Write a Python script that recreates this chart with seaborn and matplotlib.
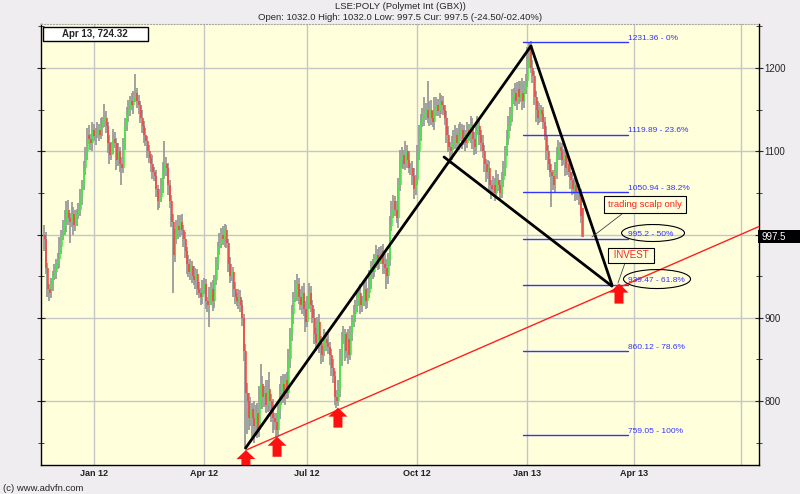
import numpy as np
import pandas as pd
import matplotlib
matplotlib.use("Agg")
import matplotlib.pyplot as plt
import matplotlib.transforms as mtransforms
from matplotlib.patches import Ellipse, Rectangle
from matplotlib.path import Path
import seaborn as sns

# header / quote values
ticker = "LSE:POLY (Polymet Int (GBX))"
open_last, high_last, low_last, cur_last = 1032.0, 1032.0, 997.5, 997.5
chg, chg_pct = -24.50, -2.40
cursor_label = "Apr 13, 724.32"
first_open = 1000.0

# daily closes (trading days from 18 Nov 2011)
closes = [
    995, 960, 935, 930, 940, 950, 955, 965, 970, 985,
    1000, 1010, 1015, 1030, 1020, 1015, 1025, 1012, 1020, 1025,
    1030, 1045, 1060, 1080, 1100, 1120, 1115, 1110, 1125, 1118,
    1122, 1125, 1120, 1128, 1135, 1140, 1130, 1110, 1095, 1105,
    1115, 1110, 1090, 1100, 1085, 1080, 1110, 1130, 1145, 1150,
    1160, 1155, 1165, 1170, 1160, 1155, 1140, 1130, 1120, 1112,
    1100, 1092, 1085, 1075, 1070, 1055, 1040, 1045, 1060, 1075,
    1085, 1080, 1060, 1040, 1015, 975, 995, 1010, 1005, 1015,
    1005, 995, 980, 965, 955, 962, 950, 945, 952, 935,
    930, 925, 935, 940, 920, 915, 925, 935, 920, 945,
    965, 985, 990, 1000, 995, 1005, 990, 965, 950, 955,
    935, 925, 920, 925, 915, 900, 860, 810, 800, 780,
    790, 780, 770, 785, 765, 800, 820, 805, 810, 795,
    815, 800, 790, 780, 775, 765, 790, 805, 820, 805,
    825, 810, 850, 880, 905, 925, 930, 940, 925, 915,
    930, 910, 895, 920, 930, 915, 900, 880, 870, 895,
    870, 855, 860, 875, 870, 865, 855, 840, 830, 805,
    800, 815, 850, 875, 880, 860, 875, 855, 880, 895,
    905, 915, 920, 930, 915, 920, 935, 920, 930, 945,
    960, 955, 970, 975, 965, 975, 980, 965, 960, 950,
    970, 1010, 1030, 1040, 1030, 1020, 1060, 1090, 1095, 1085,
    1100, 1090, 1080, 1080, 1070, 1055, 1065, 1100, 1120, 1135,
    1140, 1145, 1150, 1140, 1150, 1140, 1135, 1150, 1155, 1148,
    1160, 1155, 1150, 1140, 1120, 1105, 1100, 1110, 1115, 1120,
    1110, 1118, 1125, 1115, 1120, 1110, 1125, 1120, 1130, 1115,
    1105, 1125, 1130, 1120, 1110, 1100, 1085, 1075, 1080, 1060,
    1055, 1060, 1050, 1065, 1060, 1050, 1065, 1080, 1100, 1115,
    1130, 1145, 1165, 1170, 1160, 1175, 1165, 1170, 1160, 1175,
    1185, 1210, 1225, 1200, 1190, 1165, 1150, 1140, 1150, 1145,
    1135, 1120, 1100, 1085, 1075, 1070, 1060, 1075, 1095, 1105,
    1100, 1090, 1095, 1080, 1085, 1075, 1065, 1055, 1060, 1050,
    1055, 1045, 1022, 997.5,
]

# wick lengths above / below the body
up_wick = [
    12, 8, 6, 5, 8, 6, 10, 5, 8, 12,
    6, 8, 14, 10, 12, 6, 14, 8, 10, 6,
    8, 10, 6, 8, 5, 8, 12, 6, 10, 8,
    6, 10, 8, 12, 6, 17, 8, 5, 10, 6,
    12, 8, 6, 10, 5, 8, 6, 10, 8, 12,
    6, 10, 8, 23, 6, 8, 5, 10, 6, 8,
    6, 8, 5, 10, 6, 8, 5, 10, 8, 12,
    27, 8, 6, 5, 8, 10, 12, 8, 14, 8,
    10, 6, 8, 5, 10, 8, 6, 12, 8, 6,
    8, 6, 10, 8, 6, 5, 12, 8, 10, 6,
    8, 6, 12, 8, 10, 8, 6, 5, 8, 10,
    6, 8, 5, 10, 8, 6, 5, 8, 12, 10,
    15, 8, 20, 10, 12, 18, 25, 10, 8, 15,
    10, 20, 8, 12, 6, 10, 8, 15, 10, 12,
    8, 10, 12, 8, 10, 6, 15, 12, 8, 10,
    8, 12, 10, 6, 12, 8, 6, 10, 8, 6,
    10, 8, 6, 12, 8, 10, 6, 8, 10, 6,
    8, 10, 12, 8, 10, 6, 8, 12, 10, 8,
    10, 6, 12, 8, 10, 6, 8, 10, 6, 12,
    8, 10, 6, 12, 8, 10, 6, 8, 12, 10,
    8, 12, 10, 8, 6, 10, 8, 12, 10, 6,
    12, 8, 10, 6, 8, 10, 6, 8, 12, 10,
    12, 20, 8, 35, 10, 12, 8, 15, 10, 8,
    10, 8, 12, 6, 8, 10, 6, 8, 10, 12,
    8, 15, 10, 8, 12, 6, 10, 8, 12, 10,
    8, 10, 12, 8, 6, 10, 8, 6, 10, 8,
    6, 10, 8, 12, 8, 6, 10, 8, 6, 10,
    12, 8, 10, 6, 12, 8, 10, 15, 18, 10,
    8, 15, 6, 8, 10, 6, 8, 10, 8, 6,
    8, 6, 10, 8, 6, 10, 8, 12, 10, 8,
    6, 10, 8, 6, 10, 8, 6, 10, 8, 6,
    8, 6, 10, 0,
]
down_wick = [
    15, 8, 10, 10, 6, 8, 5, 8, 6, 10,
    8, 6, 10, 12, 8, 25, 6, 12, 8, 10,
    6, 8, 10, 6, 8, 10, 6, 8, 10, 6,
    10, 6, 8, 5, 10, 6, 8, 12, 10, 6,
    8, 6, 12, 8, 10, 20, 6, 8, 6, 10,
    8, 6, 10, 6, 8, 10, 6, 8, 10, 6,
    8, 6, 10, 8, 6, 10, 10, 8, 6, 10,
    8, 10, 12, 8, 6, 45, 8, 6, 10, 8,
    6, 10, 8, 12, 6, 10, 8, 6, 10, 8,
    6, 10, 8, 6, 10, 8, 26, 10, 12, 8,
    6, 8, 10, 6, 8, 10, 6, 10, 8, 6,
    10, 8, 6, 10, 8, 10, 12, 68, 40, 15,
    10, 25, 20, 12, 10, 8, 10, 15, 12, 10,
    8, 12, 15, 18, 10, 10, 8, 12, 10, 8,
    10, 8, 6, 10, 8, 12, 6, 10, 8, 6,
    10, 8, 12, 6, 10, 8, 6, 12, 10, 8,
    12, 10, 8, 6, 10, 8, 12, 10, 8, 10,
    8, 6, 10, 8, 6, 12, 8, 10, 6, 8,
    6, 10, 8, 6, 10, 8, 6, 10, 8, 6,
    10, 8, 6, 10, 8, 6, 10, 12, 8, 15,
    10, 8, 6, 10, 8, 6, 12, 8, 10, 6,
    8, 10, 6, 8, 10, 12, 8, 6, 10, 8,
    6, 10, 8, 6, 10, 8, 6, 10, 8, 6,
    8, 10, 6, 8, 10, 6, 15, 10, 8, 12,
    10, 8, 6, 12, 8, 10, 6, 8, 10, 12,
    10, 8, 6, 12, 10, 8, 10, 12, 8, 10,
    12, 8, 10, 6, 8, 10, 6, 8, 10, 6,
    8, 6, 10, 8, 6, 10, 8, 6, 10, 8,
    6, 8, 10, 6, 8, 10, 15, 8, 6, 10,
    8, 6, 10, 8, 6, 37, 6, 10, 8, 6,
    10, 8, 6, 10, 8, 6, 10, 8, 6, 10,
    8, 10, 8, 0,
]

start_day = "2011-11-18"
uk_holidays = [
    "2011-12-26", "2011-12-27", "2012-01-02", "2012-04-06", "2012-04-09",
    "2012-05-07", "2012-06-04", "2012-06-05", "2012-08-27", "2012-12-25",
    "2012-12-26", "2013-01-01", "2013-03-29", "2013-04-01", "2013-05-06",
    "2013-05-27",
]
quarter_dates = ["2012-01-01", "2012-04-01", "2012-07-01", "2012-10-01",
                 "2013-01-01", "2013-04-01", "2013-07-01"]
quarter_labels = ["Jan 12", "Apr 12", "Jul 12", "Oct 12", "Jan 13", "Apr 13", ""]
price_ticks = [800, 900, 1000, 1100, 1200]
# 1000 sits under the current-price box
price_labels = ["800", "900", "", "1100", "1200"]

# fibonacci retracement drawn from the Jan 13 high to the May 12 low
fib_levels = [1231.36, 1119.89, 1050.94, 995.2, 939.47, 860.12, 759.05]
fib_pcts = ["0%", "23.6%", "38.2%", "50%", "61.8%", "78.6%", "100%"]
fib_start, fib_end = 278.5, 339.5

# hand drawn lines (trading day index, price)
trend_x = [[117.2, 283.1], [283.1, 330.2], [232.6, 330.2]]
trend_y = [[743.5, 1226.4], [1226.4, 939.5], [1093.1, 938.0]]
support_x = [117.4, 415.7]
support_y = [741.0, 1009.6]
arrow_x = [117.4, 135.5, 170.9, 334.3]
arrow_y = [741.0, 757.0, 792.0, 941.0]

# ---------------------------------------------------------------
sns.set_style("white")
plt.rcParams["font.family"] = ["Liberation Sans", "DejaVu Sans"]

df = pd.DataFrame({"close": closes, "up": up_wick, "dn": down_wick})
df["day"] = np.arange(len(df))
df["open"] = df["close"].shift(1).fillna(first_open)
df.loc[df.index[-1], "open"] = open_last
df["high"] = df[["open", "close"]].max(axis=1) + df["up"]
df["low"] = df[["open", "close"]].min(axis=1) - df["dn"]
rising = df["close"] >= df["open"]

fig = plt.figure(figsize=(8, 4.94), dpi=100, facecolor="#efedef")
ax = fig.add_axes([41 / 800, 29 / 494, 718 / 800, 441 / 494])
ax.set_facecolor("#ffffdc")

# candles
ax.vlines(df["day"], df["low"], df["high"], color="#9a9a9a", lw=1.3, zorder=2)
ax.vlines(df["day"][rising] + 0.35, df["open"][rising], df["close"][rising],
          color="#3cf03c", lw=1.1, zorder=3)
ax.vlines(df["day"][~rising] + 0.35, df["open"][~rising], df["close"][~rising],
          color="#ff3c3c", lw=1.1, zorder=3)

# fib levels
for lvl, pct in zip(fib_levels, fib_pcts):
    sns.lineplot(x=[fib_start, fib_end], y=[lvl, lvl], ax=ax, color="#3434ff",
                 lw=1.0, legend=False, zorder=4)
    ax.text(fib_end, lvl + 0.5, f"{lvl} - {pct}", color="#3434ff", fontsize=6,
            ha="left", va="bottom", zorder=5)

# trend lines
sns.lineplot(x=support_x, y=support_y, ax=ax, color="#ff2020", lw=1.0, legend=False, zorder=4)
for tx, ty in zip(trend_x, trend_y):
    sns.lineplot(x=tx, y=ty, ax=ax, color="black", lw=2.0, legend=False, zorder=5)

# red up arrows
arrow_path = Path([(0, 0), (9.5, -9), (4.5, -9), (4.5, -20), (-4.5, -20),
                   (-4.5, -9), (-9.5, -9), (0, 0)],
                  [Path.MOVETO] + [Path.LINETO] * 6 + [Path.CLOSEPOLY])
ax.scatter(arrow_x, arrow_y, marker=arrow_path, s=829, color="#ff1010",
           edgecolors="none", zorder=6)

# notes
ax.text(349.4, 1036, "trading scalp only", color="#ff2020", fontsize=6.8,
        ha="center", va="center", zorder=7,
        bbox=dict(boxstyle="square,pad=0.45", fc="#ffffdc", ec="black", lw=0.8))
ax.plot([336.0, 318.6], [1024.6, 997.0], color="#444444", lw=0.6, zorder=6)
ax.text(341.3, 974.8, " INVEST ", color="#ff2020", fontsize=7,
        ha="center", va="center", zorder=7,
        bbox=dict(boxstyle="square,pad=0.25", fc="#ffffdc", ec="black", lw=0.8))
ax.plot([337.8, 333.7], [965.8, 941.7], color="#444444", lw=0.6, zorder=6)
ax.add_patch(Ellipse((354.1, 1001.8), 36.6, 20.4, fill=False, ec="black", lw=0.8, zorder=6))
ax.add_patch(Ellipse((356.4, 946.5), 39.0, 22.8, fill=False, ec="black", lw=0.8, zorder=6))

# axes
hol = np.array(uk_holidays, dtype="datetime64[D]")
tick_pos = np.busday_count(np.datetime64(start_day),
                           np.array(quarter_dates, dtype="datetime64[D]"), holidays=hol)
ax.set_xlim(-1.74, 415.7)
ax.set_ylim(723.1, 1252.9)
ax.set_xticks(tick_pos)
ax.set_xticklabels(quarter_labels, fontsize=6.5, fontweight="bold", color="#222222")
ax.set_yticks(price_ticks)
ax.set_yticklabels(price_labels)
ax.set_yticks([750, 850, 950, 1050, 1150, 1250], minor=True)
ax.set_xlabel("")
ax.set_ylabel("")
ax.yaxis.tick_right()
ax.tick_params(axis="y", which="both", left=True, right=True, labelleft=False,
               labelright=True, direction="inout", labelsize=7, pad=1)
ax.tick_params(axis="y", which="major", length=6)
ax.tick_params(axis="y", which="minor", length=4)
ax.tick_params(axis="x", direction="in", length=4, pad=3)
ax.grid(True, which="major", color="#c6c6c6", lw=1.0)
ax.set_axisbelow(True)
for side in ["left", "right", "bottom"]:
    ax.spines[side].set_color("black")
    ax.spines[side].set_linewidth(1.0)
ax.spines["top"].set_color("#a8a8a8")
ax.spines["top"].set_linestyle(":")

# current price box on the right axis
bt = mtransforms.blended_transform_factory(fig.transFigure, ax.transData)
fig.add_artist(Rectangle((758 / 800, cur_last - 7.8), 42 / 800, 15.6,
                         transform=bt, fc="black", ec="none", zorder=5))
fig.text(762 / 800, cur_last, f"{cur_last}", transform=bt, color="white",
         fontsize=7, va="center", ha="left", zorder=6)

# header, cursor box, footer
fig.text(0.5, 1 - 6.5 / 494, ticker, ha="center", va="center", fontsize=6.8)
fig.text(0.5, 1 - 17.5 / 494,
         f"Open: {open_last:.1f} High: {high_last:.1f} Low: {low_last:.1f} "
         f"Cur: {cur_last:.1f} ({chg:.2f}/{chg_pct:06.2f}%)",
         ha="center", va="center", fontsize=6.8)
fig.add_artist(Rectangle((43 / 800, 1 - 41 / 494), 105 / 800, 14 / 494,
                         transform=fig.transFigure, fc="white", ec="black", lw=1.0, zorder=5))
fig.text(95 / 800, 1 - 34 / 494, cursor_label, ha="center", va="center",
         fontsize=7, fontweight="bold", zorder=6)
fig.text(3 / 800, 1 - 488 / 494, "(c) www.advfn.com", ha="left", va="center", fontsize=6.8)

fig.savefig("out.png", dpi=100, facecolor=fig.get_facecolor())
